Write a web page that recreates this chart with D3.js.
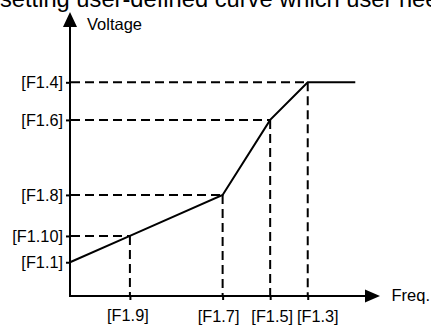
<!DOCTYPE html>
<html>
<head>
<meta charset="utf-8">
<script src="https://cdn.jsdelivr.net/npm/d3@7/dist/d3.min.js"></script>
<style>
  html, body { margin: 0; padding: 0; background: #fff; }
  svg { display: block; }
  text { font-family: "Liberation Sans", Arial, sans-serif; fill: #000; }
</style>
</head>
<body>
<svg id="chart" width="431" height="325"></svg>
<script>
// V/F user-defined curve: frequency breakpoints (Hz) and voltage breakpoints (% of rated)
const freqLabels = ["[F1.9]", "[F1.7]", "[F1.5]", "[F1.3]"];
const freqValues = [12.6, 32.1, 42.1, 50];

const voltLabels = ["[F1.4]", "[F1.6]", "[F1.8]", "[F1.10]", "[F1.1]"];
const voltValues = [100, 82.4, 47.3, 28.1, 15.8];

// Curve vertices (frequency, voltage), ending in a flat run past the top corner
const curveFreq = [0, 12.6, 32.1, 42.1, 50, 60];
const curveVolt = [15.8, 28.1, 47.3, 82.4, 100, 100];

// Guide-line pairs: voltage label -> frequency at which that voltage is reached
const guidePairs = [["[F1.10]", "[F1.9]"], ["[F1.8]", "[F1.7]"], ["[F1.6]", "[F1.5]"], ["[F1.4]", "[F1.3]"]];

const titleText = "setting user-defined curve which user needs";
const xAxisTitle = "Freq.";
const yAxisTitle = "Voltage";

const svg = d3.select("#chart");

const x = d3.scaleLinear().domain([0, 65.2]).range([70, 380]);
const y = d3.scaleLinear().domain([0, 132.9]).range([296, 12]);

// Heading line above the diagram
svg.append("text")
  .attr("x", 0).attr("y", 6.5)
  .style("font-size", "23.7px")
  .text(titleText);

const dash = "9,5";
const freqOf = Object.fromEntries(freqLabels.map((l, i) => [l, freqValues[i]]));
const voltOf = Object.fromEntries(voltLabels.map((l, i) => [l, voltValues[i]]));

// Dashed projections from each corner to both axes
const guides = svg.append("g").attr("stroke", "#000").attr("stroke-width", 2)
  .attr("stroke-dasharray", dash).attr("fill", "none");
guidePairs.forEach(([vl, fl]) => {
  const fx = x(freqOf[fl]), vy = y(voltOf[vl]);
  guides.append("line").attr("x1", x(0) + 1).attr("x2", fx).attr("y1", vy).attr("y2", vy);
  guides.append("line").attr("x1", fx).attr("x2", fx).attr("y1", vy).attr("y2", y(0) - 1);
});

// The V/F curve
const pts = curveFreq.map((f, i) => [f, curveVolt[i]]);
svg.append("path")
  .datum(pts)
  .attr("fill", "none").attr("stroke", "#000").attr("stroke-width", 2)
  .attr("stroke-linejoin", "miter")
  .attr("d", d3.line().x(d => x(d[0])).y(d => y(d[1])));

// Axes built from the scales, ticks labelled with parameter codes
const xNudge = { "[F1.9]": -2.5, "[F1.7]": -4.5, "[F1.5]": 1.5, "[F1.3]": 9.5 };
const xRow = { "[F1.9]": 320.5 };

const xAxis = d3.axisBottom(x)
  .tickValues(freqValues)
  .tickSize(4)
  .tickFormat((d, i) => freqLabels[i]);
const gx = svg.append("g").attr("transform", `translate(0,${y(0)})`).call(xAxis);
gx.select(".domain").remove();
gx.selectAll(".tick line").attr("stroke", "#000").attr("stroke-width", 2);
gx.selectAll(".tick text")
  .attr("y", null).attr("dy", null)
  .attr("x", (d, i) => xNudge[freqLabels[i]])
  .attr("transform", (d, i) => `translate(0,${(xRow[freqLabels[i]] || 321.5) - y(0)})`)
  .style("font-size", "16.3px").style("font-family", '"Liberation Sans", Arial, sans-serif');

const yAxis = d3.axisLeft(y)
  .tickValues(voltValues)
  .tickSize(4)
  .tickPadding(3)
  .tickFormat((d, i) => voltLabels[i]);
const gy = svg.append("g").attr("transform", `translate(${x(0)},0)`).call(yAxis);
gy.select(".domain").remove();
gy.selectAll(".tick line").attr("stroke", "#000").attr("stroke-width", 2);
gy.selectAll(".tick text")
  .style("font-size", "16.3px").style("font-family", '"Liberation Sans", Arial, sans-serif');

// Axis lines with arrowheads
const axes = svg.append("g").attr("stroke", "#000").attr("stroke-width", 2);
axes.append("line").attr("x1", x(0)).attr("x2", x(0)).attr("y1", y(0) + 1).attr("y2", 26);
axes.append("line").attr("x1", x(0) - 1).attr("x2", 366).attr("y1", y(0)).attr("y2", y(0));
svg.append("path").attr("fill", "#000")
  .attr("d", `M${x(0)},${y.range()[1]} L${x(0) + 7},27 L${x(0) - 7},27 Z`);
svg.append("path").attr("fill", "#000")
  .attr("d", `M${x.range()[1]},${y(0)} L365,${y(0) - 6.5} L365,${y(0) + 6.5} Z`);

svg.append("text").attr("x", 87).attr("y", 30)
  .style("font-size", "16.5px").text(yAxisTitle);
svg.append("text").attr("x", 391.5).attr("y", 300.5)
  .style("font-size", "16.5px").text(xAxisTitle);
</script>
</body>
</html>
